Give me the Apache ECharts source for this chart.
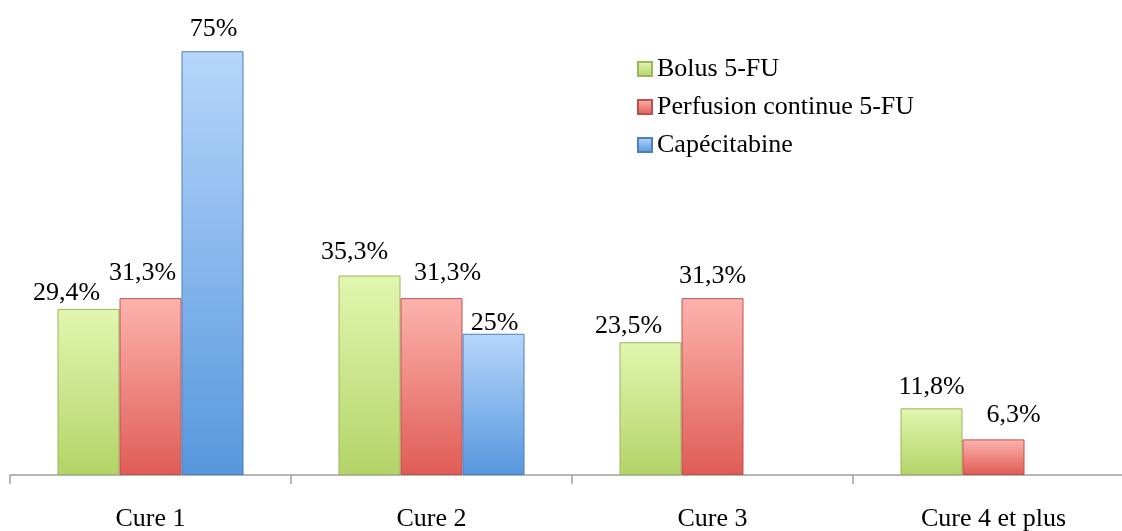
<!DOCTYPE html>
<html>
<head>
<meta charset="utf-8">
<script src="https://cdn.jsdelivr.net/npm/echarts@6/dist/echarts.min.js"></script>
<style>
html, body { margin: 0; padding: 0; background: #fff; }
#chart { width: 1122px; height: 531px; }
</style>
</head>
<body>
<div id="chart"></div>
<script>
var categories = ['Cure 1', 'Cure 2', 'Cure 3', 'Cure 4 et plus'];
var bolus = [29.4, 35.3, 23.5, 11.8];
var perfusion = [31.3, 31.3, 31.3, 6.3];
var capecitabine = [75, 25, null, null];

// label nudges (Excel moved some labels aside to avoid overlap)
var bolusShift = [[-22, 6], [-15, -1], [-22, 6], [0, 1]];
var perfusionShift = [[-8, -3], [16, -3], [0, 0], [20, -2]];
var capeShift = [[1, 0], [1, 11], [0, 0], [0, 0]];

var font = "'Liberation Serif', 'Times New Roman', serif";

function grad(top, bottom) {
	return new echarts.graphic.LinearGradient(0, 0, 0, 1, [
		{ offset: 0, color: top },
		{ offset: 1, color: bottom }
	]);
}

function makeData(values, shifts) {
	return values.map(function(v, i) {
		return { value: v, label: { offset: shifts[i] } };
	});
}

function fmt(p) {
	return String(p.value).replace('.', ',') + '%';
}

function barSeries(name, values, shifts, top, bottom, border) {
	return {
		name: name,
		type: 'bar',
		barWidth: 62,
		barGap: '0%',
		data: makeData(values, shifts),
		itemStyle: {
			color: grad(top, bottom),
			borderColor: border,
			borderWidth: 1
		},
		label: {
			show: true,
			position: 'top',
			distance: 9,
			formatter: fmt,
			color: '#000',
			fontFamily: font,
			fontSize: 26
		}
	};
}

var myChart = echarts.init(document.getElementById('chart'));
var option = {
	animation: false,
	legend: {
		orient: 'vertical',
		left: 632,
		top: 51,
		itemWidth: 14,
		itemHeight: 14,
		itemGap: 12,
		icon: 'rect',
		textStyle: { fontFamily: font, fontSize: 26, color: '#000' },
		data: ['Bolus 5-FU', 'Perfusion continue 5-FU', 'Capécitabine']
	},
	grid: { left: 10, width: 1124, top: 23, bottom: 56, outerBoundsMode: 'none' },
	xAxis: {
		type: 'category',
		data: categories,
		axisLine: { lineStyle: { color: '#a0a0a0', width: 1.5 } },
		axisTick: { show: true, length: 9, lineStyle: { color: '#a0a0a0', width: 1.5 } },
		axisLabel: { margin: 31, color: '#000', fontFamily: font, fontSize: 26 }
	},
	yAxis: {
		type: 'value',
		min: 0,
		max: 80,
		show: false
	},
	series: [
		barSeries('Bolus 5-FU', bolus, bolusShift, '#e2f6b0', '#b3d468', '#98b85a'),
		barSeries('Perfusion continue 5-FU', perfusion, perfusionShift, '#fdb3ae', '#df5c55', '#c0504d'),
		barSeries('Capécitabine', capecitabine, capeShift, '#b6d6fb', '#5797de', '#4a7fbd')
	]
};
myChart.setOption(option);
</script>
</body>
</html>
